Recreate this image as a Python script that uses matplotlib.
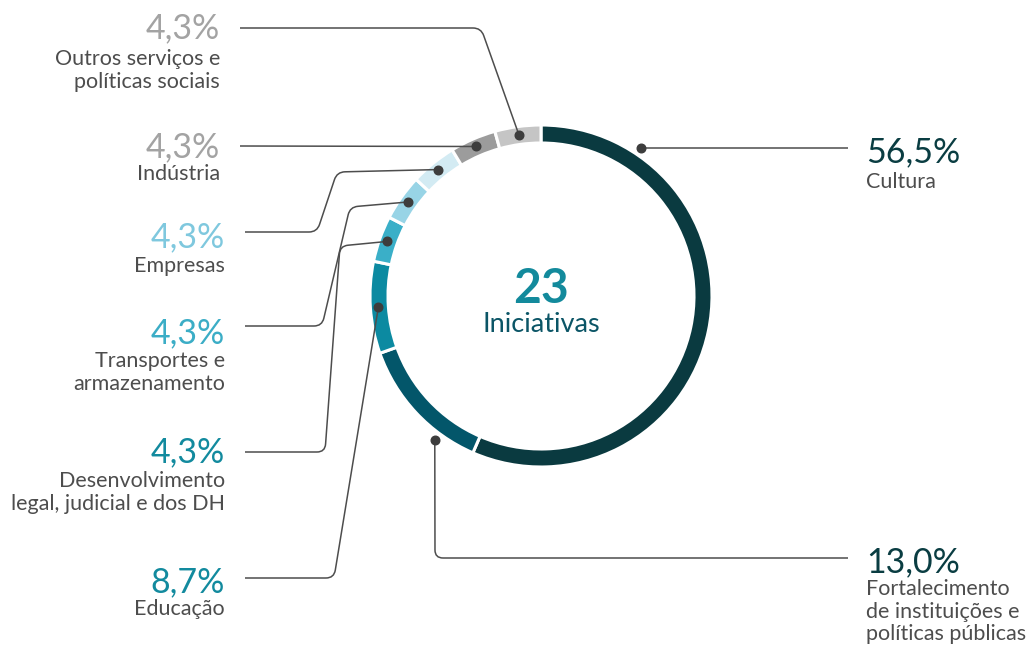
import numpy as np
import matplotlib
matplotlib.use("Agg")
import matplotlib.pyplot as plt
from matplotlib.path import Path
from matplotlib.patches import PathPatch

# ---- data ----
categories = ["Cultura", "Fortalecimento\nde instituições e\npolíticas públicas", "Educação",
              "Desenvolvimento\nlegal, judicial e dos DH", "Transportes e\narmazenamento",
              "Empresas", "Indústria", "Outros serviços e\npolíticas sociais"]
counts = [13, 3, 2, 1, 1, 1, 1, 1]
pct_labels = ["56,5%", "13,0%", "8,7%", "4,3%", "4,3%", "4,3%", "4,3%", "4,3%"]
total_label = "23"
total_caption = "Iniciativas"

ring_colors = ["#0A3A40", "#03566A", "#0C8AA1", "#3AAFC8", "#98D4E6", "#D3EBF3", "#9C9C9C", "#C5C5C5"]
pct_colors = ["#0A3D42", "#0A3D42", "#128A9E", "#128A9E", "#3BADC6", "#7FC8DE", "#A3A3A3", "#A3A3A3"]

W, H = 1034, 651
fig = plt.figure(figsize=(W / 100, H / 100), dpi=100)
ax = fig.add_axes([0, 0, 1, 1])
FONT = ["Lato", "DejaVu Sans"]

def P(x, y):
    return (x, H - y)

cx, cy = 541, 296
R_out, R_w = 171, 18
ax.pie(counts, colors=ring_colors, startangle=90, counterclock=False,
       radius=R_out, center=P(cx, cy),
       wedgeprops=dict(width=R_w, edgecolor="white", linewidth=2.2))
ax.set_xlim(0, W)
ax.set_ylim(0, H)
ax.set_aspect("equal")
ax.axis("off")

# angles (clockwise from top) of wedge mids
fr = np.array(counts) / sum(counts)
cum = np.concatenate([[0], np.cumsum(fr)]) * 360
mids = (cum[:-1] + cum[1:]) / 2
anchor_angle = list(mids)
anchor_r = [163] * len(counts)
anchor_angle[0], anchor_r[0] = 34, 179
anchor_angle[1], anchor_r[1] = 216.4, 179

def anchor(i):
    t = np.deg2rad(anchor_angle[i])
    return (cx + anchor_r[i] * np.sin(t), cy - anchor_r[i] * np.cos(t))

# leader routes (pixel coords after anchor)
routes = [
    [(848, None)],
    [(435, 558), (848, 558)],
    [(334, 578), (245, 578)],
    [(340, 246), (325, 452), (245, 452)],
    [(350, 207), (322, 326), (245, 326)],
    [(337, 172), (317, 232), (245, 232)],
    [(240, 146)],
    [(481, 28), (240, 28)],
]

def rounded_path(pts, r=8):
    pts = [np.array(p, float) for p in pts]
    verts = [pts[0]]
    codes = [Path.MOVETO]
    for k in range(1, len(pts) - 1):
        a, b, c = pts[k - 1], pts[k], pts[k + 1]
        d1 = (a - b) / np.linalg.norm(a - b)
        d2 = (c - b) / np.linalg.norm(c - b)
        verts += [b + d1 * r, b, b + d2 * r]
        codes += [Path.LINETO, Path.CURVE3, Path.CURVE3]
    verts.append(pts[-1])
    codes.append(Path.LINETO)
    return Path([P(*v) for v in verts], codes)

for i in range(len(counts)):
    a = anchor(i)
    if i == 0:
        pts = [a, (routes[0][0][0], a[1])]
    else:
        pts = [a] + routes[i]
    ax.add_patch(PathPatch(rounded_path(pts), fill=False, edgecolor="#4D4D4D", lw=1.1, zorder=3))
    ax.plot(*P(*a), "o", ms=6.2, color="#3D3D3D", zorder=4)

# label layout: (x, pct baseline, first text baseline, ha)
layout = [
    (866, 162, 188, "left"),
    (866, 572, 595, "left"),
    (225, 592, 615, "right"),
    (225, 462, 487, "right"),
    (225, 343, 367, "right"),
    (225, 247, 272, "right"),
    (220, 157, 180, "right"),
    (220, 38, 65, "right"),
]
for i, (x, yb, tb, ha) in enumerate(layout):
    ax.text(*P(x, yb), pct_labels[i], ha=ha, va="baseline", fontsize=24.5,
            color=pct_colors[i], family=FONT)
    for j, line in enumerate(categories[i].split("\n")):
        ax.text(*P(x, tb + j * 22.5), line, ha=ha, va="baseline", fontsize=15.5,
                color="#4D4D4D", family=FONT)

ax.text(*P(cx, 303), total_label, ha="center", va="baseline", fontsize=34.5,
        fontweight="bold", color="#138A9C", family=FONT)
ax.text(*P(cx, 332), total_caption, ha="center", va="baseline", fontsize=19.5,
        color="#0B5566", family=FONT)

fig.savefig("out.png", dpi=100)
